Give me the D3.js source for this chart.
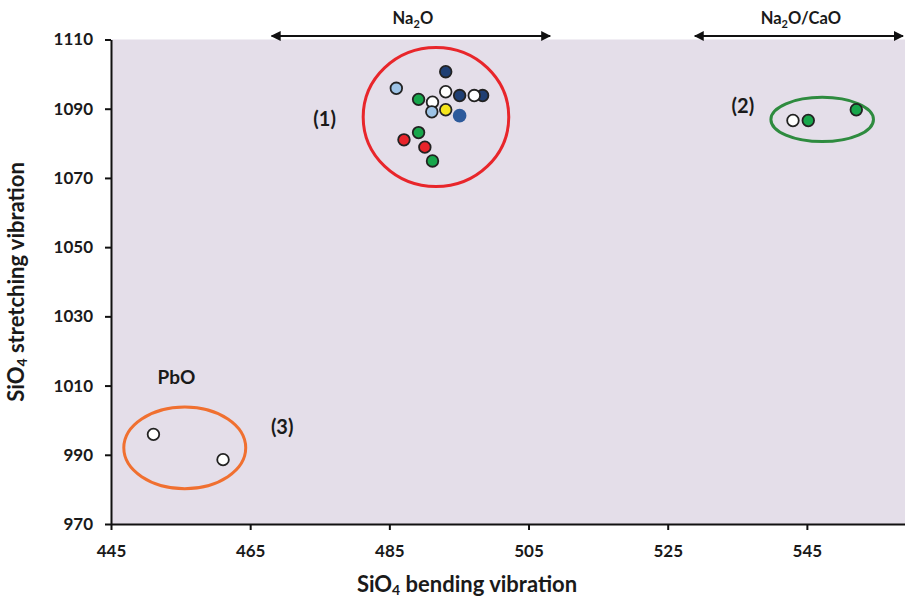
<!DOCTYPE html>
<html>
<head>
<meta charset="utf-8">
<script src="https://cdn.jsdelivr.net/npm/d3@7"></script>
<style>
  body { margin: 0; background: #fff; }
  svg text { font-family: Lato, "Open Sans", sans-serif; font-weight: 700; fill: #1a1a1a; }
</style>
</head>
<body>
<div id="chart"></div>
<script>
// data: [bending, stretching, fill]
const cluster1 = [
  [493.1, 1100.7, '#1f3f73'],
  [486.0, 1095.9, '#9dc3e6'],
  [489.2, 1092.7, '#17a64b'],
  [493.1, 1094.9, '#ffffff'],
  [495.1, 1093.8, '#1f3f73'],
  [498.4, 1093.8, '#1f3f73'],
  [497.2, 1093.8, '#ffffff'],
  [491.2, 1091.9, '#ffffff'],
  [491.1, 1089.1, '#9dc3e6'],
  [493.1, 1089.7, '#f5e51c'],
  [489.2, 1083.1, '#17a64b'],
  [487.1, 1081.0, '#e8242a'],
  [490.1, 1078.9, '#e8242a'],
  [491.2, 1074.9, '#17a64b']
];
// this one has no dark outline in the picture
const cluster1Plain = [[495.1, 1088.0, '#2d5a9b']];
const cluster2 = [
  [543.0, 1086.6, '#ffffff'],
  [545.2, 1086.6, '#17a64b'],
  [552.1, 1089.7, '#17a64b']
];
const cluster3 = [
  [451.1, 995.9, '#ffffff'],
  [461.1, 988.6, '#ffffff']
];

// group ellipses: [cx, cy, rx, ry, colour] in data units
const groups = [
  [491.7, 1087.6, 10.46, 20.1, '#e8262b'],
  [547.2, 1086.9, 7.37, 6.4, '#2e8b3f'],
  [455.6, 992.0, 8.76, 11.8, '#f07030']
];
const groupLabels = [['(1)', 475.7, 1087.3], ['(2)', 535.8, 1091.0], ['(3)', 469.6, 998.3]];
const xTicks = [445, 465, 485, 505, 525, 545];
const yTicks = [970, 990, 1010, 1030, 1050, 1070, 1090, 1110];

const width = 905, height = 598;
const margin = { top: 39.5, right: 0, bottom: 74, left: 111 };

const svg = d3.select('#chart').append('svg')
  .attr('width', width)
  .attr('height', height);

const x = d3.scaleLinear().domain([445, 559.1]).range([margin.left, width - margin.right]);
const y = d3.scaleLinear().domain([970, 1110]).range([height - margin.bottom, margin.top]);

// plot background
svg.append('rect')
  .attr('x', x(445)).attr('y', y(1110))
  .attr('width', x(559.1) - x(445)).attr('height', y(970) - y(1110))
  .attr('fill', '#e4dee9');

// axes
const xAxis = svg.append('g')
  .attr('transform', `translate(0,${y(970)})`)
  .call(d3.axisBottom(x).tickValues(xTicks).tickFormat(d3.format('d'))
    .tickSize(6).tickSizeOuter(0).tickPadding(15));
const yAxis = svg.append('g')
  .attr('transform', `translate(${x(445)},0)`)
  .call(d3.axisLeft(y).tickValues(yTicks).tickFormat(d3.format('d'))
    .tickSize(6).tickSizeOuter(0).tickPadding(12));

[xAxis, yAxis].forEach(g => {
  g.select('.domain').attr('stroke', '#111').attr('stroke-width', 2);
  g.selectAll('.tick line').attr('stroke', '#111').attr('stroke-width', 2);
  g.selectAll('.tick text')
    .attr('font-family', 'Lato, sans-serif')
    .attr('font-weight', 700)
    .attr('font-size', 17)
    .attr('fill', '#1a1a1a');
});

// ellipses
svg.selectAll('.group')
  .data(groups)
  .enter()
  .append('ellipse')
  .attr('cx', d => x(d[0]))
  .attr('cy', d => y(d[1]))
  .attr('rx', d => x(d[0] + d[2]) - x(d[0]))
  .attr('ry', d => y(d[1]) - y(d[1] + d[3]))
  .attr('fill', 'none')
  .attr('stroke', d => d[4])
  .attr('stroke-width', 3);

// points
const allPts = cluster1.concat(cluster2, cluster3);
svg.selectAll('.pt')
  .data(allPts)
  .enter()
  .append('circle')
  .attr('cx', d => x(d[0]))
  .attr('cy', d => y(d[1]))
  .attr('r', 5.8)
  .attr('fill', d => d[2])
  .attr('stroke', '#222')
  .attr('stroke-width', 1.8);

svg.selectAll('.pt2')
  .data(cluster1Plain)
  .enter()
  .append('circle')
  .attr('cx', d => x(d[0]))
  .attr('cy', d => y(d[1]))
  .attr('r', 6.8)
  .attr('fill', d => d[2]);

// group labels
svg.selectAll('.glab')
  .data(groupLabels)
  .enter()
  .append('text')
  .attr('x', d => x(d[1]))
  .attr('y', d => y(d[2]))
  .attr('text-anchor', 'middle')
  .attr('dominant-baseline', 'central')
  .attr('font-size', 20)
  .text(d => d[0]);

svg.append('text')
  .attr('x', x(454.4)).attr('y', y(1012.7))
  .attr('text-anchor', 'middle')
  .attr('dominant-baseline', 'central')
  .attr('font-size', 19)
  .text('PbO');

// top arrows for composition ranges
svg.append('defs').append('marker')
  .attr('id', 'ah')
  .attr('viewBox', '0 0 10 10')
  .attr('refX', 9).attr('refY', 5)
  .attr('markerWidth', 5).attr('markerHeight', 5)
  .attr('orient', 'auto-start-reverse')
  .append('path')
  .attr('d', 'M0,0 L10,5 L0,10 Z')
  .attr('fill', '#111');

const arrows = [[467.8, 508.4, 'Na', 'O', ''], [528.6, 559.1, 'Na', 'O', '/CaO']];
const arrowY = 36;
arrows.forEach(a => {
  svg.append('line')
    .attr('x1', x(a[0]) + 2).attr('x2', x(a[1]) - 2)
    .attr('y1', arrowY).attr('y2', arrowY)
    .attr('stroke', '#111').attr('stroke-width', 2)
    .attr('marker-start', 'url(#ah)')
    .attr('marker-end', 'url(#ah)');
  const t = svg.append('text')
    .attr('x', (x(a[0]) + x(a[1])) / 2 + 2)
    .attr('y', 18)
    .attr('text-anchor', 'middle')
    .attr('dominant-baseline', 'central')
    .attr('font-size', 16.5);
  t.append('tspan').text(a[2]);
  t.append('tspan').text('2').attr('font-size', 11).attr('dy', 5);
  t.append('tspan').text(a[3] + a[4]).attr('dy', -5);
});

// axis titles
const xt = svg.append('text')
  .attr('x', 467).attr('y', 583)
  .attr('text-anchor', 'middle')
  .attr('dominant-baseline', 'central')
  .attr('font-size', 22);
xt.append('tspan').text('SiO');
xt.append('tspan').text('4').attr('font-size', 14).attr('dy', 6);
xt.append('tspan').text(' bending vibration').attr('dy', -6);

const yt = svg.append('text')
  .attr('transform', 'translate(15,282) rotate(-90)')
  .attr('text-anchor', 'middle')
  .attr('dominant-baseline', 'central')
  .attr('font-size', 22);
yt.append('tspan').text('SiO');
yt.append('tspan').text('4').attr('font-size', 14).attr('dy', 6);
yt.append('tspan').text(' stretching vibration').attr('dy', -6);
</script>
</body>
</html>
